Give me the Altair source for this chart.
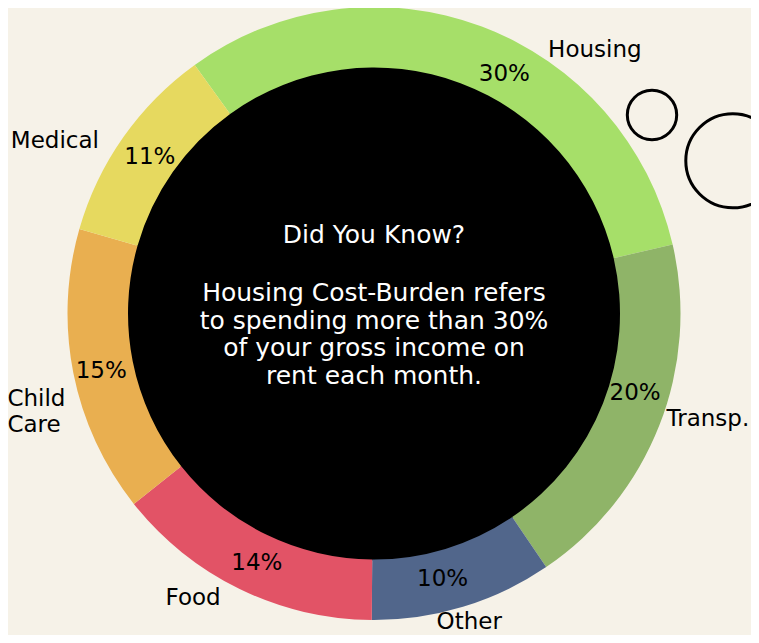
import math
import altair as alt
import pandas as pd

# ---- data ----
categories = ["Housing", "Transp.", "Other", "Food", "Child Care", "Medical"]
shares = [31.3, 19.1, 9.6, 14.2, 15.1, 10.6]
pct_labels = ["30%", "20%", "10%", "14%", "15%", "11%"]
name_labels = ["Housing", "Transp.", "Other", "Food", "Child\nCare", "Medical"]
colors = ["#a6df69", "#8fb468", "#51668b", "#e25366", "#e9af50", "#e6d95f"]
center_title = "Did You Know?"
center_lines = [
    "Housing Cost-Burden refers",
    "to spending more than 30%",
    "of your gross income on",
    "rent each month.",
]

df = pd.DataFrame({
    "category": categories,
    "share": shares,
    "pct": pct_labels,
    "name": name_labels,
    "order": list(range(len(categories))),
})
total = float(sum(shares))

FONT = "Comic Sans MS, DejaVu Sans"
BG = "#f6f2e8"
W, H = 732, 611
start = math.radians(324.2)
theta_scale = alt.Scale(domain=[0, total], range=[start, start + 2 * math.pi])

# label nudges (style only)
PCT_NUDGE = {"Housing": (34, 17), "Transp.": (6, -21), "Other": (-11, 3),
             "Food": (3, 3), "Child Care": (-4, 4), "Medical": (0, 1)}
NAME_NUDGE = {"Housing": (103, 50), "Transp.": (22, -17), "Other": (-2, -12),
              "Food": (-34, -17), "Child Care": (-38, 20), "Medical": (-45, 20)}

ring = alt.Chart(df).mark_arc(innerRadius=246, outerRadius=306.5).encode(
    theta=alt.Theta("share:Q", stack=True, scale=theta_scale),
    color=alt.Color("category:N", scale=alt.Scale(domain=categories, range=colors), legend=None),
    order=alt.Order("order:Q", sort="ascending"),
)

disc = alt.Chart(pd.DataFrame({"k": [0]})).mark_arc(
    innerRadius=0, outerRadius=247, color="black"
).encode(theta=alt.value(0), theta2=alt.value(2 * math.pi))

base_lbl = alt.Chart(df).transform_window(
    cum="sum(share)", sort=[alt.SortField("order", order="ascending")], frame=[None, 0]
).transform_calculate(mid="datum.cum - datum.share / 2")

layers = [disc, ring]
for cat in categories:
    dx, dy = PCT_NUDGE[cat]
    layers.append(
        base_lbl.transform_filter(alt.datum.category == cat).mark_text(
            radius=274, font=FONT, fontSize=23, color="black", dx=dx, dy=dy,
            align="center", baseline="middle",
        ).encode(theta=alt.Theta("mid:Q", stack=False, scale=theta_scale), text="pct:N")
    )
    dx, dy = NAME_NUDGE[cat]
    layers.append(
        base_lbl.transform_filter(alt.datum.category == cat).mark_text(
            radius=335, font=FONT, fontSize=23, color="black", dx=dx, dy=dy,
            align="left" if cat == "Child Care" else "center", baseline="middle",
            lineBreak="\n", lineHeight=26.5,
        ).encode(theta=alt.Theta("mid:Q", stack=False, scale=theta_scale), text="name:N")
    )

one = pd.DataFrame({"k": [0]})
title_text = alt.Chart(one).mark_text(
    font=FONT, fontSize=25, color="white", align="center", baseline="middle"
).encode(x=alt.value(W / 2), y=alt.value(227), text=alt.value(center_title))
center_text = alt.Chart(one).mark_text(
    font=FONT, fontSize=25, color="white", align="center", baseline="middle", lineHeight=27.7
).encode(x=alt.value(W / 2), y=alt.value(285), text=alt.value(center_lines))

bubble_small = alt.Chart(one).mark_point(
    shape="circle", filled=False, stroke="black", strokeWidth=3, opacity=1
).encode(x=alt.value(644), y=alt.value(107), size=alt.value(2440))
bubble_big = alt.Chart(one).mark_point(
    shape="circle", filled=False, stroke="black", strokeWidth=3, opacity=1
).encode(x=alt.value(724.8), y=alt.value(152.8), size=alt.value(8836))

chart = alt.layer(*layers, title_text, center_text, bubble_small, bubble_big).properties(
    width=W,
    height=H,
    autosize=alt.AutoSizeParams(type="none"),
    padding={"left": 0, "top": 0, "right": 11, "bottom": 16},
    background=BG,
).configure_view(stroke=None)

chart.save("out.html", embed_options={"renderer": "svg", "actions": False})
